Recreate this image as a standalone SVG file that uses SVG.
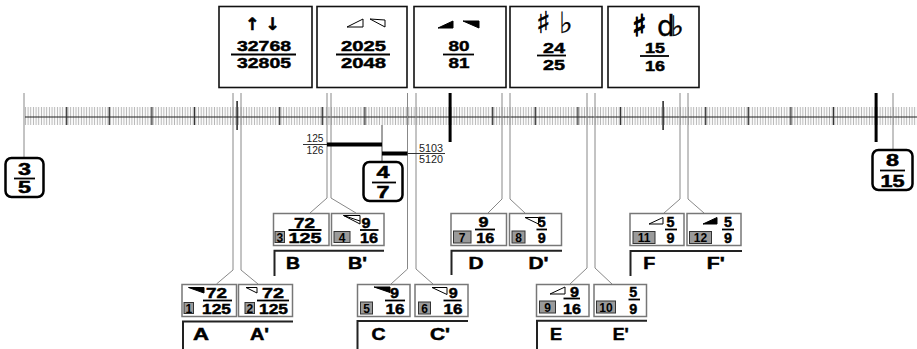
<svg xmlns="http://www.w3.org/2000/svg" width="917" height="349" viewBox="0 0 917 349">
<style>
text{font-family:"Liberation Sans",Arial,sans-serif;fill:#000}
.f14{font-size:14.5px;font-weight:bold;text-anchor:middle;stroke:#000;stroke-width:0.45}
.f16{font-size:16px;font-weight:bold;text-anchor:middle;stroke:#000;stroke-width:0.5}
.lab{font-size:16px;font-weight:bold;stroke:#000;stroke-width:0.5}
.sm{font-size:10px;text-anchor:middle;fill:#222}
.bn{font-size:12px;font-weight:bold;text-anchor:middle}
.mus{font-family:"DejaVu Sans",sans-serif;text-anchor:middle;fill:#000;stroke:#000}
.topbox{fill:#fff;stroke:#111;stroke-width:1.6}
.box{fill:#fff;stroke:#777;stroke-width:1.5}
.badge{fill:#9a9a9a;stroke:#333;stroke-width:1}
.fl{stroke:#000;stroke-width:1.8}
.conn{fill:none;stroke:#888;stroke-width:1}
.br{fill:none;stroke:#222;stroke-width:2}
.rbox{fill:#fff;stroke:#000;stroke-width:2.5}
.wo{fill:#fff;stroke:#000;stroke-width:1}
.wf{fill:#000;stroke:#000;stroke-width:1}
</style>
<defs>
<pattern id="minor" patternUnits="userSpaceOnUse" x="24.1" y="0" width="2.6625" height="349">
<line x1="1.33" y1="0" x2="1.33" y2="349" stroke="#b4b4b4" stroke-width="1"/>
</pattern>
</defs>
<rect width="917" height="349" fill="#fff"/>

<g id="ruler">
<rect x="25" y="107" width="892" height="18" fill="url(#minor)"/>
<line x1="25" y1="117" x2="917" y2="117" stroke="#222" stroke-width="1.2"/>
<path d="M66.7 107v18M109.3 107v18M151.9 107v18M194.5 107v18M279.7 107v18M322.3 107v18M364.9 107v18M407.5 107v18M492.7 107v18M535.3 107v18M577.9 107v18M620.5 107v18M705.7 107v18M748.3 107v18M790.9 107v18M833.5 107v18" stroke="#333" stroke-width="1.2"/>
<path d="M237.1 101v29M663.1 101v29" stroke="#222" stroke-width="1.5"/>
<path d="M450.1 93v49M876.1 93v49" stroke="#000" stroke-width="3"/>
</g>

<g id="connectors">
<path class="conn" d="M24 93V158M893 93V150"/>
<path class="conn" d="M233 93V270L216.5 284M241 93V270L258 284"/>
<path class="conn" d="M327 93V198L310 213M331 93V198L356 213"/>
<path class="conn" d="M407.5 93V269L391 284M416 93V269L433 284"/>
<path class="conn" d="M502 93V199L488 213M510 93V199L525 213"/>
<path class="conn" d="M587 93V268L570 284M595 93V268L612 284"/>
<path class="conn" d="M680 93V199L664 213M688 93V199L704 213"/>
<path d="M382 125V162" stroke="#444" stroke-width="1"/>
<rect x="327" y="142.5" width="55" height="4" fill="#000"/>
<rect x="382" y="151.5" width="25.5" height="4" fill="#000"/>
<path d="M303 144.5H327M407.5 153.5H445" stroke="#333" stroke-width="1"/>
<text class="sm" x="315" y="142" textLength="17" lengthAdjust="spacingAndGlyphs">125</text>
<text class="sm" x="315" y="154" textLength="17" lengthAdjust="spacingAndGlyphs">126</text>
<text class="sm" x="431" y="151.5" textLength="24" lengthAdjust="spacingAndGlyphs">5103</text>
<text class="sm" x="431" y="162.5" textLength="24" lengthAdjust="spacingAndGlyphs">5120</text>
</g>

<g id="top1">
<rect class="topbox" x="219" y="6.5" width="93" height="81"/>
<text x="262.5" y="30" style="font-family:'DejaVu Sans',sans-serif;font-size:17px;font-weight:bold;stroke:#000;stroke-width:0.6" text-anchor="middle">↑ ↓</text>
<text class="f14" x="264" y="51" textLength="54" lengthAdjust="spacingAndGlyphs">32768</text>
<line class="fl" x1="231" y1="54.5" x2="296" y2="54.5"/>
<text class="f14" x="264" y="68" textLength="54" lengthAdjust="spacingAndGlyphs">32805</text>
</g>

<g id="top2">
<rect class="topbox" x="317" y="6.5" width="90" height="81"/>
<polygon class="wo" points="347,27 363,27 363,19"/>
<polygon class="wo" points="370,19 385,20 385,27"/>
<text class="f14" x="363.5" y="51" textLength="45" lengthAdjust="spacingAndGlyphs">2025</text>
<line class="fl" x1="336" y1="54.5" x2="390" y2="54.5"/>
<text class="f14" x="363.5" y="68" textLength="45" lengthAdjust="spacingAndGlyphs">2048</text>
</g>

<g id="top3">
<rect class="topbox" x="414" y="6.5" width="92" height="81"/>
<polygon class="wf" points="438,28 453,28 453,21"/>
<polygon class="wf" points="463,21 479,21 479,28"/>
<text class="f14" x="459" y="51" textLength="21" lengthAdjust="spacingAndGlyphs">80</text>
<line class="fl" x1="443" y1="54.5" x2="474" y2="54.5"/>
<text class="f14" x="459" y="68" textLength="21" lengthAdjust="spacingAndGlyphs">81</text>
</g>

<g id="top4">
<rect class="topbox" x="510" y="6.5" width="92" height="81"/>
<text class="mus" x="543.5" y="33" font-size="30" stroke-width="0.5">♯&#xFE0E;</text>
<text class="mus" x="566" y="33" font-size="29" stroke-width="0.3">♭&#xFE0E;</text>
<text class="f14" x="554" y="53.3" textLength="22" lengthAdjust="spacingAndGlyphs">24</text>
<line class="fl" x1="537" y1="55.5" x2="566" y2="55.5"/>
<text class="f14" x="554" y="70" textLength="22" lengthAdjust="spacingAndGlyphs">25</text>
</g>

<g id="top5">
<rect class="topbox" x="608" y="6.5" width="91" height="81"/>
<text class="mus" x="639.5" y="36" font-size="30" stroke-width="1.3">♯&#xFE0E;</text>
<text class="mus" x="668.5" y="36" font-size="28" letter-spacing="-4" stroke-width="0.4">d♭&#xFE0E;</text>
<text class="f14" x="655" y="53.3" textLength="20" lengthAdjust="spacingAndGlyphs">15</text>
<line class="fl" x1="640" y1="56" x2="669" y2="56"/>
<text class="f14" x="655" y="70.5" textLength="20" lengthAdjust="spacingAndGlyphs">16</text>
</g>

<g id="r35">
<rect class="rbox" x="5.5" y="158" width="38" height="39" rx="6"/>
<text class="f16" x="24.5" y="175" textLength="13" lengthAdjust="spacingAndGlyphs">3</text>
<line class="fl" x1="14" y1="178.5" x2="35" y2="178.5"/>
<text class="f16" x="24.5" y="193" textLength="13" lengthAdjust="spacingAndGlyphs">5</text>
</g>

<g id="r47">
<rect class="rbox" x="363.5" y="162" width="39" height="39" rx="6"/>
<text class="f16" x="383" y="178" textLength="13" lengthAdjust="spacingAndGlyphs">4</text>
<line class="fl" x1="372" y1="182.5" x2="396" y2="182.5"/>
<text class="f16" x="383" y="198" textLength="13" lengthAdjust="spacingAndGlyphs">7</text>
</g>

<g id="r815">
<rect class="rbox" x="872.5" y="150" width="40" height="40" rx="6"/>
<text class="f16" x="892.5" y="166" textLength="13" lengthAdjust="spacingAndGlyphs">8</text>
<line class="fl" x1="880" y1="170.5" x2="905" y2="170.5"/>
<text class="f16" x="892.5" y="187" textLength="24" lengthAdjust="spacingAndGlyphs">15</text>
</g>

<g id="boxA">
<rect class="box" x="182" y="284.5" width="54.5" height="32"/>
<polygon class="wf" points="188.5,287.5 204,287.5 204,293"/>
<text class="f14" x="216.5" y="298" textLength="21" lengthAdjust="spacingAndGlyphs">72</text>
<line class="fl" x1="203" y1="300.5" x2="232" y2="300.5"/>
<text class="f14" x="216.5" y="314" textLength="29" lengthAdjust="spacingAndGlyphs">125</text>
<rect class="badge" x="184" y="302.5" width="9.5" height="11"/>
<text class="bn" x="188.8" y="312.5">1</text>
</g>
<g id="boxA2">
<rect class="box" x="238.5" y="284.5" width="54" height="32"/>
<polygon class="wo" points="246,287.5 257,287.5 257,293"/>
<text class="f14" x="273" y="298" textLength="22" lengthAdjust="spacingAndGlyphs">72</text>
<line class="fl" x1="257" y1="300.5" x2="289" y2="300.5"/>
<text class="f14" x="273.5" y="314" textLength="29" lengthAdjust="spacingAndGlyphs">125</text>
<rect class="badge" x="245" y="302.5" width="9.5" height="11"/>
<text class="bn" x="249.8" y="312.5">2</text>
</g>
<g id="labelA">
<path class="br" d="M183 349V321.5H293"/>
<text class="lab" x="193" y="340" textLength="16" lengthAdjust="spacingAndGlyphs">A</text>
<text class="lab" x="250" y="340" textLength="19" lengthAdjust="spacingAndGlyphs">A'</text>
</g>

<g id="boxB">
<rect class="box" x="273.5" y="213.5" width="55.5" height="32"/>
<text class="f14" x="304.5" y="227.5" textLength="21" lengthAdjust="spacingAndGlyphs">72</text>
<line class="fl" x1="288.5" y1="230" x2="321.5" y2="230"/>
<text class="f14" x="305" y="242.5" textLength="33" lengthAdjust="spacingAndGlyphs">125</text>
<rect class="badge" x="275" y="231.5" width="9.5" height="11"/>
<text class="bn" x="279.8" y="241.5">3</text>
</g>
<g id="boxB2">
<rect class="box" x="331.5" y="213.5" width="52.5" height="32"/>
<polygon class="wo" points="343.5,215.5 360,215.5 360,224"/>
<line x1="343.5" y1="215.5" x2="360" y2="221" stroke="#000" stroke-width="1"/>
<text class="f14" x="366" y="227.5" textLength="9" lengthAdjust="spacingAndGlyphs">9</text>
<line class="fl" x1="360" y1="230" x2="378.5" y2="230"/>
<text class="f14" x="369" y="242.5" textLength="18" lengthAdjust="spacingAndGlyphs">16</text>
<rect class="badge" x="334" y="231.5" width="16" height="11"/>
<text class="bn" x="342" y="241.5">4</text>
</g>
<g id="labelB">
<path class="br" d="M274.5 276V250.7H384"/>
<text class="lab" x="286" y="269" textLength="14" lengthAdjust="spacingAndGlyphs">B</text>
<text class="lab" x="348" y="269" textLength="19" lengthAdjust="spacingAndGlyphs">B'</text>
</g>

<g id="boxC">
<rect class="box" x="357.5" y="284.5" width="52.5" height="32"/>
<polygon class="wf" points="374,287 390,287 390,292.5"/>
<text class="f14" x="394.5" y="298" textLength="9" lengthAdjust="spacingAndGlyphs">9</text>
<line class="fl" x1="385" y1="300.5" x2="405" y2="300.5"/>
<text class="f14" x="395" y="314" textLength="19" lengthAdjust="spacingAndGlyphs">16</text>
<rect class="badge" x="360.5" y="302" width="12" height="12"/>
<text class="bn" x="366.5" y="312.5">5</text>
</g>
<g id="boxC2">
<rect class="box" x="415" y="284.5" width="53" height="32"/>
<polygon class="wo" points="432,287.5 447,287.5 447,294.5"/>
<text class="f14" x="453.3" y="298" textLength="9" lengthAdjust="spacingAndGlyphs">9</text>
<line class="fl" x1="443.5" y1="300.5" x2="461.5" y2="300.5"/>
<text class="f14" x="453" y="314" textLength="19" lengthAdjust="spacingAndGlyphs">16</text>
<rect class="badge" x="418.5" y="302" width="12" height="12"/>
<text class="bn" x="424.5" y="312.5">6</text>
</g>
<g id="labelC">
<path class="br" d="M357.5 349V321H468"/>
<text class="lab" x="371.5" y="340" textLength="14" lengthAdjust="spacingAndGlyphs">C</text>
<text class="lab" x="430" y="340" textLength="20" lengthAdjust="spacingAndGlyphs">C'</text>
</g>

<g id="boxD">
<rect class="box" x="451" y="213.5" width="55.5" height="32"/>
<text class="f14" x="483.5" y="226.5" textLength="10" lengthAdjust="spacingAndGlyphs">9</text>
<line class="fl" x1="475" y1="229.5" x2="495" y2="229.5"/>
<text class="f14" x="485.3" y="242.5" textLength="18" lengthAdjust="spacingAndGlyphs">16</text>
<rect class="badge" x="453.5" y="231" width="17.5" height="12"/>
<text class="bn" x="462.2" y="241.5">7</text>
</g>
<g id="boxD2">
<rect class="box" x="509.5" y="213.5" width="52" height="32"/>
<polygon class="wo" points="525,217.5 538.5,217.5 538.5,224"/>
<text class="f14" x="541.8" y="226.5" textLength="8" lengthAdjust="spacingAndGlyphs">5</text>
<line class="fl" x1="536.5" y1="229.5" x2="547" y2="229.5"/>
<text class="f14" x="541.8" y="242.5" textLength="8" lengthAdjust="spacingAndGlyphs">9</text>
<rect class="badge" x="512" y="231" width="13" height="12"/>
<text class="bn" x="518.5" y="241.5">8</text>
</g>
<g id="labelD">
<path class="br" d="M451.5 275V250.7H562"/>
<text class="lab" x="468.5" y="269" textLength="15" lengthAdjust="spacingAndGlyphs">D</text>
<text class="lab" x="528.5" y="269" textLength="20" lengthAdjust="spacingAndGlyphs">D'</text>
</g>

<g id="boxE">
<rect class="box" x="536.5" y="284.5" width="52.5" height="32"/>
<polygon class="wo" points="550,294 565,294 565,287"/>
<text class="f14" x="574.5" y="296.5" textLength="9" lengthAdjust="spacingAndGlyphs">9</text>
<line class="fl" x1="563.5" y1="298.5" x2="580" y2="298.5"/>
<text class="f14" x="572" y="313.5" textLength="18" lengthAdjust="spacingAndGlyphs">16</text>
<rect class="badge" x="539.5" y="301" width="16" height="12"/>
<text class="bn" x="547.5" y="311.5">9</text>
</g>
<g id="boxE2">
<rect class="box" x="594" y="284.5" width="52.5" height="32"/>
<text class="f14" x="633.3" y="296.5" textLength="8" lengthAdjust="spacingAndGlyphs">5</text>
<line class="fl" x1="628.5" y1="299.5" x2="640" y2="299.5"/>
<text class="f14" x="633.3" y="313.5" textLength="8" lengthAdjust="spacingAndGlyphs">9</text>
<rect class="badge" x="596.5" y="301" width="19" height="12"/>
<text class="bn" x="606" y="311.5">10</text>
</g>
<g id="labelE">
<path class="br" d="M537 349V320.7H647"/>
<text class="lab" x="550" y="340" textLength="12" lengthAdjust="spacingAndGlyphs">E</text>
<text class="lab" x="612.7" y="340" textLength="16" lengthAdjust="spacingAndGlyphs">E'</text>
</g>

<g id="boxF">
<rect class="box" x="630" y="213.5" width="54" height="32"/>
<polygon class="wo" points="649,224 663,224 663,217.5"/>
<text class="f14" x="670.5" y="226.5" textLength="8" lengthAdjust="spacingAndGlyphs">5</text>
<line class="fl" x1="665" y1="229.5" x2="677" y2="229.5"/>
<text class="f14" x="670.5" y="242.5" textLength="8" lengthAdjust="spacingAndGlyphs">9</text>
<rect class="badge" x="633" y="231.5" width="22" height="12"/>
<text class="bn" x="644" y="242">11</text>
</g>
<g id="boxF2">
<rect class="box" x="687" y="213.5" width="54" height="32"/>
<polygon class="wf" points="703,224 717,224 717,217.5"/>
<text class="f14" x="728" y="226.5" textLength="8" lengthAdjust="spacingAndGlyphs">5</text>
<line class="fl" x1="722" y1="229.5" x2="734" y2="229.5"/>
<text class="f14" x="728" y="242.5" textLength="8" lengthAdjust="spacingAndGlyphs">9</text>
<rect class="badge" x="689.5" y="231.5" width="22" height="12"/>
<text class="bn" x="700.5" y="242">12</text>
</g>
<g id="labelF">
<path class="br" d="M630.5 276V251H742"/>
<text class="lab" x="643.3" y="269" textLength="12" lengthAdjust="spacingAndGlyphs">F</text>
<text class="lab" x="706.7" y="269" textLength="18" lengthAdjust="spacingAndGlyphs">F'</text>
</g>
</svg>
